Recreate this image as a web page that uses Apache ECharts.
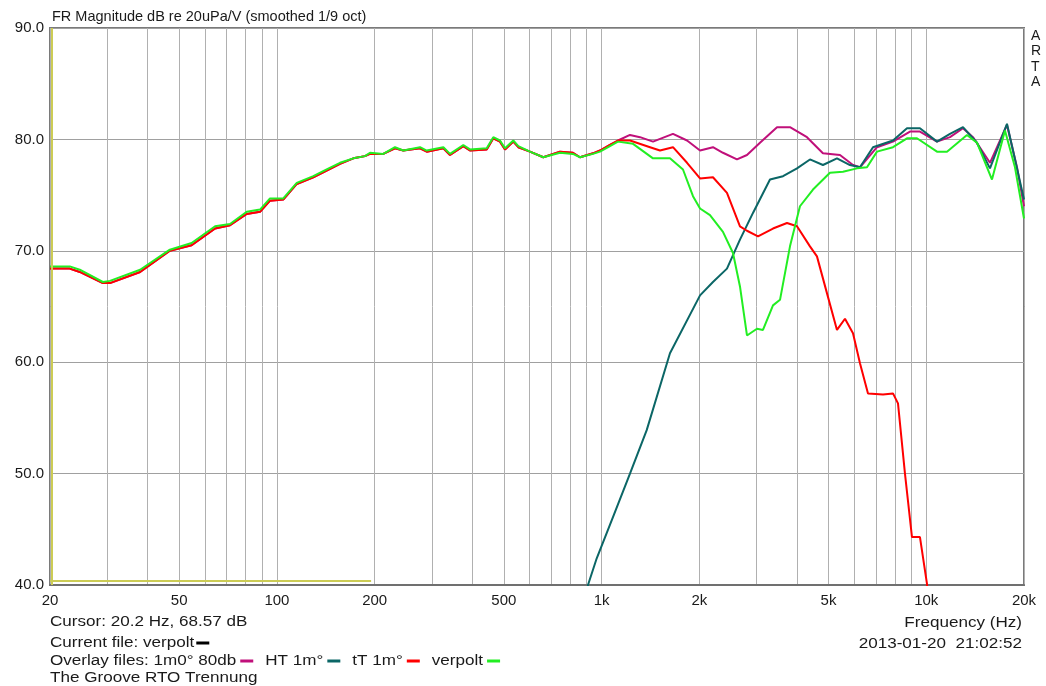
<!DOCTYPE html>
<html>
<head>
<meta charset="utf-8">
<script src="https://cdn.jsdelivr.net/npm/echarts@6/dist/echarts.min.js"></script>
<style>
  html, body { margin: 0; padding: 0; background: #fff; }
  #chart { width: 1046px; height: 686px; }
</style>
</head>
<body>
<div id="chart"></div>
<script>
// shared low band (all four measurements overlap below ~1.1 kHz)
const lowFreq = [20, 23, 24.7, 29.1, 30.6, 37.9, 46.8, 54.6, 64.5, 71.7, 80.7, 88.7, 95.2, 104.6, 115.1, 129.4, 142.3, 156.4, 171.9, 186.7, 193.5, 212.6, 231, 245, 275.9, 289.3, 325.5, 341.3, 375, 393.1, 442.7, 463.9, 486.4, 504, 534.6, 554, 601.6, 661.4, 744.4, 816, 857.9, 941, 988.6, 1061, 1123]
const lowMain = [68.4, 68.4, 68.1, 67.1, 67.1, 68.1, 70.0, 70.5, 72.0, 72.3, 73.3, 73.5, 74.5, 74.6, 76.0, 76.6, 77.2, 77.8, 78.3, 78.5, 78.7, 78.7, 79.2, 79.0, 79.2, 78.9, 79.2, 78.6, 79.4, 79.0, 79.1, 80.1, 79.8, 79.1, 79.8, 79.3, 78.9, 78.4, 78.9, 78.8, 78.4, 78.75, 79.0, 79.5, 79.9]
const lowGreen = [68.6, 68.6, 68.3, 67.2, 67.3, 68.3, 70.1, 70.7, 72.2, 72.4, 73.5, 73.7, 74.7, 74.7, 76.1, 76.7, 77.3, 77.9, 78.3, 78.5, 78.8, 78.7, 79.3, 79.0, 79.3, 79.0, 79.3, 78.7, 79.5, 79.1, 79.2, 80.2, 79.9, 79.2, 79.9, 79.4, 78.9, 78.4, 78.8, 78.7, 78.4, 78.7, 78.9, 79.4, 79.8]

// 1m0° 80db (magenta)
const magFreq = [1223, 1313, 1440, 1659, 1833, 2010, 2203, 2365, 2612, 2804, 3075, 3470, 3804, 4291, 4806, 5423, 5947, 6249, 7051, 7898, 8908, 9562, 10790, 11832, 12975, 13928, 15711, 17726, 19030, 20000]
const magDb = [80.4, 80.2, 79.8, 80.5, 79.9, 79.0, 79.3, 78.8, 78.2, 78.6, 79.7, 81.1, 81.1, 80.2, 78.75, 78.6, 77.7, 77.5, 79.3, 79.8, 80.7, 80.7, 79.8, 80.2, 81.0, 80.2, 77.9, 81.3, 77.5, 74.0]

// HT 1m° (teal)
const htFreq = [900, 908, 966, 1084, 1223, 1377, 1624, 2010, 2203, 2433, 2668, 2926, 3301, 3621, 3998, 4383, 4806, 5309, 5821, 6249, 6854, 7898, 8722, 9562, 10790, 11832, 12975, 14328, 15711, 17726, 20000]
const htDb = [39.3, 40.0, 42.4, 46.1, 50.0, 53.9, 60.8, 66.0, 67.2, 68.4, 71.0, 73.4, 76.4, 76.7, 77.4, 78.2, 77.7, 78.3, 77.7, 77.5, 79.3, 79.9, 81.0, 81.0, 79.8, 80.5, 81.1, 79.7, 77.4, 81.4, 74.6]

// tT 1m° (red)
const ttFreq = [1223, 1410, 1513, 1659, 1833, 2010, 2203, 2433, 2668, 2804, 3032, 3372, 3724, 3998, 4383, 4606, 4944, 5309, 5619, 5947, 6249, 6615, 7357, 7898, 8183, 8598, 9036, 9562, 10051, 10150]
const ttDb = [79.9, 79.3, 79.0, 79.3, 77.9, 76.5, 76.6, 75.2, 72.2, 71.8, 71.3, 72.0, 72.5, 72.2, 70.4, 69.5, 66.2, 62.9, 63.9, 62.6, 59.9, 57.2, 57.1, 57.2, 56.3, 50.0, 44.3, 44.3, 40.1, 38.0]

// verpolt (green)
const vpFreq = [1250, 1440, 1624, 1781, 1912, 2010, 2157, 2365, 2539, 2668, 2804, 3010, 3141, 3372, 3544, 3804, 4083, 4478, 5050, 5540, 6118, 6568, 7051, 7898, 8722, 9362, 10790, 11584, 13348, 14328, 15937, 17475, 18760, 20000]
const vpDb = [79.6, 78.3, 78.3, 77.3, 74.9, 73.8, 73.2, 71.7, 69.8, 66.8, 62.4, 63.0, 62.9, 65.1, 65.6, 70.4, 74.0, 75.5, 77.0, 77.1, 77.4, 77.5, 78.9, 79.3, 80.1, 80.1, 78.9, 78.9, 80.4, 79.7, 76.4, 80.8, 77.5, 72.9]

// yellow reference trace near the floor and the cursor position
const refFreq = [20, 195]
const refDb = [40.35, 40.35]
const cursorFreq = 20.2

const gridFreqs = [20, 30, 40, 50, 60, 70, 80, 90, 100, 200, 300, 400, 500, 600, 700, 800, 900,
  1000, 2000, 3000, 4000, 5000, 6000, 7000, 8000, 9000, 10000, 20000]
const labelFreqs = [20, 50, 100, 200, 500, 1000, 2000, 5000, 10000, 20000]
const labelTexts = ['20', '50', '100', '200', '500', '1k', '2k', '5k', '10k', '20k']

const FONT = '"Liberation Sans", Arial, sans-serif'
const INK = '#1a1a1a'
const STRETCH = 1.22 // ARTA footer text is drawn wide

const colors = {
  mag: '#c0107a',
  ht: '#0b6666',
  tt: '#ff0000',
  vp: '#22ee22',
  ref: '#cccc55',
}

function pairs(xs, ys) {
  return xs.map((x, i) => [x, ys[i]])
}

function lineSeries(name, color, data, extra) {
  return Object.assign({
    name: name,
    type: 'line',
    data: data,
    symbol: 'none',
    lineStyle: { color: color, width: 2 },
    itemStyle: { color: color },
    z: 3,
  }, extra || {})
}

// footer line, stretched horizontally like the original
function footText(x, y, text, align, rich) {
  return {
    type: 'text',
    x: x,
    y: y,
    scaleX: STRETCH,
    silent: true,
    style: {
      text: text,
      fontFamily: FONT,
      fontSize: 14,
      fill: INK,
      align: align || 'left',
      verticalAlign: 'top',
      rich: rich,
    },
  }
}

const dash = (c) => ({ width: 13 / STRETCH, height: 3, backgroundColor: c })
const gap = (w) => ({ width: w / STRETCH, height: 3 })
const plain = { fontFamily: FONT, fontSize: 14, color: INK }

const chart = echarts.init(document.getElementById('chart'))

chart.setOption({
  animation: false,
  backgroundColor: '#fff',
  title: [
    {
      text: 'FR Magnitude dB re 20uPa/V (smoothed 1/9 oct)', left: 52, top: 9, padding: 0,
      textStyle: { fontFamily: FONT, fontSize: 14.5, fontWeight: 'normal', color: INK },
    },
    {
      text: 'A\nR\nT\nA', left: 1031, top: 28, padding: 0,
      textStyle: { fontFamily: FONT, fontSize: 14, fontWeight: 'normal', color: INK, lineHeight: 15.5 },
    },
  ],
  graphic: [
    footText(50, 615, 'Cursor: 20.2 Hz, 68.57 dB'),
    footText(50, 636, '{t|Current file: verpolt}{g|}{k|}', 'left', { t: plain, g: gap(2), k: dash('#000') }),
    footText(50, 654,
      '{t|Overlay files: 1m0° 80db}{g|}{m|}{s|}{t|HT 1m°}{g|}{h|}{s|}{t|tT 1m°}{g|}{r|}{s|}{t|verpolt}{g|}{v|}',
      'left',
      {
        t: plain, g: gap(4), s: gap(12),
        m: dash(colors.mag), h: dash(colors.ht), r: dash(colors.tt), v: dash(colors.vp),
      }),
    footText(50, 671, 'The Groove RTO Trennung'),
    footText(1022, 616, 'Frequency (Hz)', 'right'),
    footText(1022, 637, '2013-01-20  21:02:52', 'right'),
  ],
  grid: {
    left: 50, right: 22, top: 28, bottom: 101,
    show: true, borderColor: '#7a7a7a', borderWidth: 2,
    containLabel: false,
  },
  xAxis: {
    type: 'log',
    logBase: 10,
    min: 20,
    max: 20000,
    axisLine: { show: true, lineStyle: { color: '#707070', width: 2 } },
    axisTick: { show: false, customValues: gridFreqs },
    splitLine: { show: true, lineStyle: { color: '#b0b0b0', width: 1 } },
    axisLabel: {
      customValues: labelFreqs,
      margin: 8,
      fontFamily: FONT, fontSize: 15, color: INK,
      formatter: (v) => {
        const i = labelFreqs.findIndex((f) => Math.abs(f - v) < 1e-6 * f)
        return i >= 0 ? labelTexts[i] : ''
      },
    },
  },
  yAxis: {
    type: 'value',
    min: 40,
    max: 90,
    interval: 10,
    axisLine: { show: false },
    axisTick: { show: false },
    splitLine: { show: true, lineStyle: { color: '#a0a0a0', width: 1 } },
    axisLabel: {
      margin: 6,
      fontFamily: FONT, fontSize: 15, color: INK,
      formatter: (v) => v.toFixed(1),
    },
  },
  series: [
    lineSeries('ref', colors.ref, pairs(refFreq, refDb), {
      z: 2,
      markLine: {
        silent: true,
        symbol: 'none',
        label: { show: false },
        lineStyle: { color: colors.ref, width: 2, type: 'solid' },
        data: [{ xAxis: cursorFreq }],
      },
    }),
    lineSeries('1m0° 80db', colors.mag, pairs(lowFreq, lowMain).concat(pairs(magFreq, magDb))),
    lineSeries('HT 1m°', colors.ht, pairs(htFreq, htDb)),
    lineSeries('tT 1m°', colors.tt, pairs(lowFreq, lowMain).concat(pairs(ttFreq, ttDb))),
    lineSeries('verpolt', colors.vp, pairs(lowFreq, lowGreen).concat(pairs(vpFreq, vpDb))),
  ],
})

window.addEventListener('resize', () => chart.resize())
</script>
</body>
</html>
